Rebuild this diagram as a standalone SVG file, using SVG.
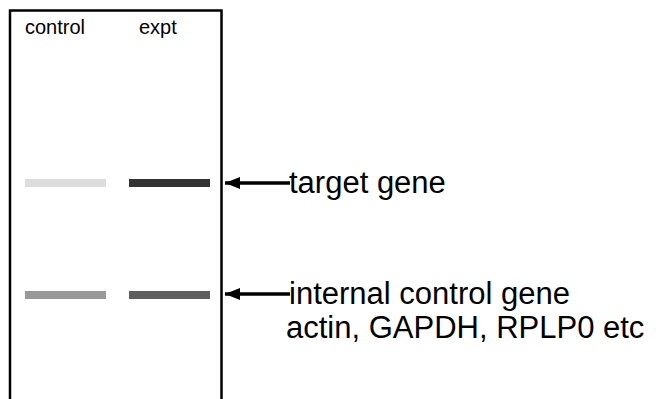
<svg xmlns="http://www.w3.org/2000/svg" width="663" height="399" viewBox="0 0 663 399">
<style>
.hdr{font-family:"Liberation Sans",Arial,sans-serif;font-size:20px;fill:#000}
.lbl{font-family:"Liberation Sans",Arial,sans-serif;font-size:31px;fill:#000}
.arr{stroke:#000;stroke-width:3.5;fill:none}
</style>
<defs>
<marker id="ah" markerWidth="15" markerHeight="12" refX="15" refY="6" orient="auto" markerUnits="userSpaceOnUse">
<path d="M0,0 L15,6 L0,12 Z" fill="#000"/>
</marker>
</defs>
<g id="gel">
<path d="M10,399 V10.5 H221.5 V399" fill="none" stroke="#000" stroke-width="2.5"/>
<text class="hdr" x="25" y="34">control</text>
<text class="hdr" x="139" y="34">expt</text>
</g>
<g id="bands">
<rect x="25" y="179" width="81" height="8" fill="#dddddd"/>
<rect x="129" y="179" width="81" height="8" fill="#333333"/>
<rect x="25" y="291" width="81" height="8" fill="#999999"/>
<rect x="129" y="291" width="81" height="8" fill="#5f5f5f"/>
</g>
<g id="connectors">
<line class="arr" x1="290" y1="183" x2="225" y2="183" marker-end="url(#ah)"/>
<line class="arr" x1="290" y1="294" x2="225" y2="294" marker-end="url(#ah)"/>
</g>
<g id="target">
<text class="lbl" x="289" y="193">target gene</text>
</g>
<g id="internal">
<text class="lbl" x="289" y="304">internal control gene</text>
<text class="lbl" x="286" y="338">actin, GAPDH, RPLP0 etc</text>
</g>
</svg>
